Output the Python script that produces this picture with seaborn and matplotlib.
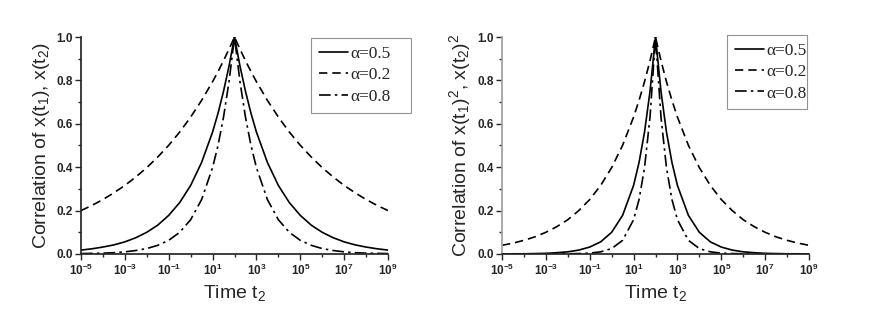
import numpy as np
import pandas as pd
import matplotlib
matplotlib.use('Agg')
import matplotlib.pyplot as plt
from matplotlib.ticker import FixedLocator, FixedFormatter, MultipleLocator, NullFormatter
import seaborn as sns

# log10 of time t2 (t1 = 100)
log_t2 = [-5, -4.5, -4, -3.5, -3, -2.5, -2, -1.5, -1, -0.5, 0, 0.5, 1, 1.25, 1.5, 1.75,
          2, 2.25, 2.5, 2.75, 3, 3.5, 4, 4.5, 5, 5.5, 6, 6.5, 7, 7.5, 8, 8.5, 9]

# left panel: correlation of x(t1), x(t2)
left_a05 = [.018, .024, .032, .042, .056, .075, .100, .133, .178, .237, .316, .422, .562, .649, .750, .866,
            1.0, .866, .750, .649, .562, .422, .316, .237, .178, .133, .100, .075, .056, .042, .032, .024, .018]
left_a02 = [.200, .224, .251, .282, .316, .355, .398, .447, .501, .562, .631, .708, .794, .841, .891, .944,
            1.0, .944, .891, .841, .794, .708, .631, .562, .501, .447, .398, .355, .316, .282, .251, .224, .200]
left_a08 = [.002, .003, .004, .006, .010, .016, .025, .040, .063, .100, .158, .251, .398, .501, .631, .794,
            1.0, .794, .631, .501, .398, .251, .158, .100, .063, .040, .025, .016, .010, .006, .004, .003, .002]

# right panel: correlation of x(t1)^2, x(t2)^2
right_a05 = [.000, .001, .001, .002, .003, .006, .010, .018, .032, .056, .100, .178, .316, .422, .562, .750,
             1.0, .750, .562, .422, .316, .178, .100, .056, .032, .018, .010, .006, .003, .002, .001, .001, .000]
right_a02 = [.040, .050, .063, .079, .100, .126, .158, .200, .251, .316, .398, .501, .631, .708, .794, .891,
             1.0, .891, .794, .708, .631, .501, .398, .316, .251, .200, .158, .126, .100, .079, .063, .050, .040]
right_a08 = [.000, .000, .000, .000, .000, .000, .001, .002, .004, .010, .025, .063, .158, .251, .398, .631,
             1.0, .631, .398, .251, .158, .063, .025, .010, .004, .002, .001, .000, .000, .000, .000, .000, .000]

alpha_labels = ["\u03b1=0.5", "\u03b1=0.2", "\u03b1=0.8"]
xtick_exps = [-5, -3, -1, 1, 3, 5, 7, 9]
ytick_vals = [0.0, 0.2, 0.4, 0.6, 0.8, 1.0]

sns.set_theme(style="ticks")
plt.rcParams["font.family"] = ["Liberation Sans", "DejaVu Sans"]
plt.rcParams["mathtext.fontset"] = "custom"
plt.rcParams["mathtext.rm"] = "Liberation Sans"
plt.rcParams["mathtext.it"] = "Liberation Sans:italic"
plt.rcParams["mathtext.bf"] = "Liberation Sans:bold"

t2 = 10.0 ** np.array(log_t2)
styles = [dict(linestyle="-"), dict(linestyle=(0, (5, 3))), dict(linestyle=(0, (7, 2.5, 1.5, 2.5)))]

fig = plt.figure(figsize=(8.72, 3.16), dpi=100)
ax_l = fig.add_axes([81 / 872, 62 / 316, 307 / 872, 217 / 316])
ax_r = fig.add_axes([502 / 872, 62 / 316, 307 / 872, 217 / 316])

# legend boxes in axes fraction: (x0, y0, width, height)
panels = [
    (ax_l, [left_a05, left_a02, left_a08], r"Correlation of x(t$_1$), x(t$_2$)", (0.749, 0.65, 0.326, 0.345)),
    (ax_r, [right_a05, right_a02, right_a08], r"Correlation of x(t$_1$)$^2$, x(t$_2$)$^2$", (0.733, 0.65, 0.262, 0.36)),
]

for ax, series, ylab, box in panels:
    for vals, lab, st in zip(series, alpha_labels, styles):
        df = pd.DataFrame({"t2": t2, "corr": vals})
        sns.lineplot(data=df, x="t2", y="corr", ax=ax, color="black", lw=1.2,
                     label=lab, **st)
    ax.set_xscale("log")
    ax.set_xlim(1e-5, 1e9)
    ax.set_ylim(0, 1.0)
    ax.xaxis.set_major_locator(FixedLocator([10.0 ** e for e in xtick_exps]))
    ax.xaxis.set_major_formatter(FixedFormatter([r"$\mathbf{10^{%d}}$" % e for e in xtick_exps]))
    ax.xaxis.set_minor_locator(FixedLocator([10.0 ** (e + 1) for e in xtick_exps[:-1]]))
    ax.xaxis.set_minor_formatter(NullFormatter())
    ax.yaxis.set_major_locator(FixedLocator(ytick_vals))
    ax.yaxis.set_major_formatter(FixedFormatter(["%.1f" % v for v in ytick_vals]))
    ax.yaxis.set_minor_locator(MultipleLocator(0.1))
    ax.tick_params(which="major", direction="out", length=4, width=1, labelsize=8.5, pad=2)
    ax.tick_params(which="minor", direction="out", length=2.5, width=1)
    for lbl in ax.get_yticklabels():
        lbl.set_fontweight("bold")
    sns.despine(ax=ax)
    ax.set_xlabel(r"Time t$_2$", fontsize=14, labelpad=4)
    ax.set_ylabel(ylab, fontsize=14, labelpad=3)
    leg = ax.legend(loc="upper left", bbox_to_anchor=box, mode="expand", borderaxespad=0,
                    frameon=True, fancybox=False, edgecolor="#777777",
                    prop={"family": "Liberation Serif", "size": 12.5},
                    handlelength=1.7, handletextpad=0.1, labelspacing=0.3,
                    borderpad=0.45)
    leg.get_frame().set_linewidth(0.8)

ax_r.spines["left"].set_color("#a0a0a0")

fig.savefig("out.png", dpi=100)
